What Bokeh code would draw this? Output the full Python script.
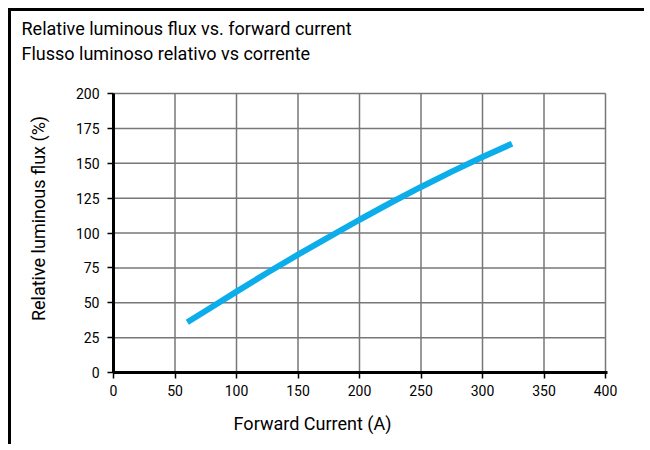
import math
from bokeh.plotting import figure
from bokeh.models import Label, Range1d, FixedTicker
from bokeh.embed import file_html
from bokeh.resources import INLINE

# Data
current_a = [60, 80, 100, 125, 150, 175, 200, 225, 250, 275, 300, 324]
rel_flux_pct = [36, 47, 58, 71.5, 84.5, 97, 109.5, 121.5, 133, 144, 154.5, 164]

x_ticks = [0, 50, 100, 150, 200, 250, 300, 350, 400]
y_ticks = [0, 25, 50, 75, 100, 125, 150, 175, 200]

title_line1 = "Relative luminous flux vs. forward current"
title_line2 = "Flusso luminoso relativo vs corrente"
x_label = "Forward Current (A)"
y_label = "Relative luminous flux (%)"

FONT = "Roboto"
W, H = 636, 436
# frame geometry in canvas pixels (whole canvas is the frame)
X0_PX, X1_PX = 102, 594   # data x 0 .. 400
Y0_PX, Y1_PX = 361, 82    # data y 0 .. 200 (from top)
XMIN, XMAX = 0, 400
YMIN, YMAX = 0, 200
sx = (X1_PX - X0_PX) / (XMAX - XMIN)
sy = (Y0_PX - Y1_PX) / (YMAX - YMIN)
x_range = Range1d(XMIN - X0_PX / sx, XMAX + (W - X1_PX) / sx)
y_range = Range1d(YMIN - (H - Y0_PX) / sy, YMAX + Y1_PX / sy)

p = figure(width=W, height=H, output_backend="svg", toolbar_location=None,
           x_range=x_range, y_range=y_range,
           min_border_left=0, min_border_right=0, min_border_top=0, min_border_bottom=0)
p.styles = {"margin-left": "8px", "margin-top": "8px",
            "border-top": "3px solid black", "border-left": "3px solid black"}
p.outline_line_color = None
p.background_fill_color = "white"
p.border_fill_color = "white"
p.xgrid.visible = False
p.ygrid.visible = False

# grid limited to the data area
GRID_COLOR = "#777777"
p.segment(x0=x_ticks, y0=[YMIN] * len(x_ticks), x1=x_ticks, y1=[YMAX] * len(x_ticks),
          line_color=GRID_COLOR, line_width=1.5)
p.segment(x0=[XMIN] * len(y_ticks), y0=y_ticks, x1=[XMAX] * len(y_ticks), y1=y_ticks,
          line_color=GRID_COLOR, line_width=1.5)

p.xaxis.ticker = FixedTicker(ticks=x_ticks)
p.yaxis.ticker = FixedTicker(ticks=y_ticks)
p.xaxis.fixed_location = YMIN
p.yaxis.fixed_location = XMIN
p.xaxis.bounds = (XMIN, XMAX + 1.5)
p.yaxis.bounds = (YMIN, YMAX)
for ax in (p.xaxis, p.yaxis):
    ax.axis_line_color = "black"
    ax.axis_line_width = 3
    ax.major_tick_line_color = "black"
    ax.major_tick_line_width = 1.5
    ax.major_tick_out = 6
    ax.major_tick_in = 0
    ax.minor_tick_line_color = None
    ax.major_label_text_font = FONT
    ax.major_label_text_font_size = "14px"
    ax.major_label_text_color = "black"
    ax.axis_label = None
p.xaxis.major_label_standoff = 6
p.yaxis.major_label_standoff = 8

p.line(current_a, rel_flux_pct, line_color="#0BADEA", line_width=6)

def add_text(x, y, text, align="left", angle=0.0):
    p.add_layout(Label(x=x, y=y, text=text, text_font=FONT, text_font_size="18px",
                       text_baseline="middle", text_align=align, angle=angle,
                       text_color="black"))

add_text(-74.8, 246.6, title_line1)
add_text(-74.8, 228.7, title_line2)
add_text(161.8, -36.6, x_label, align="center")
add_text(-61, 110.4, y_label, align="center", angle=math.pi / 2)

open("out.html", "w").write(file_html(p, INLINE))
